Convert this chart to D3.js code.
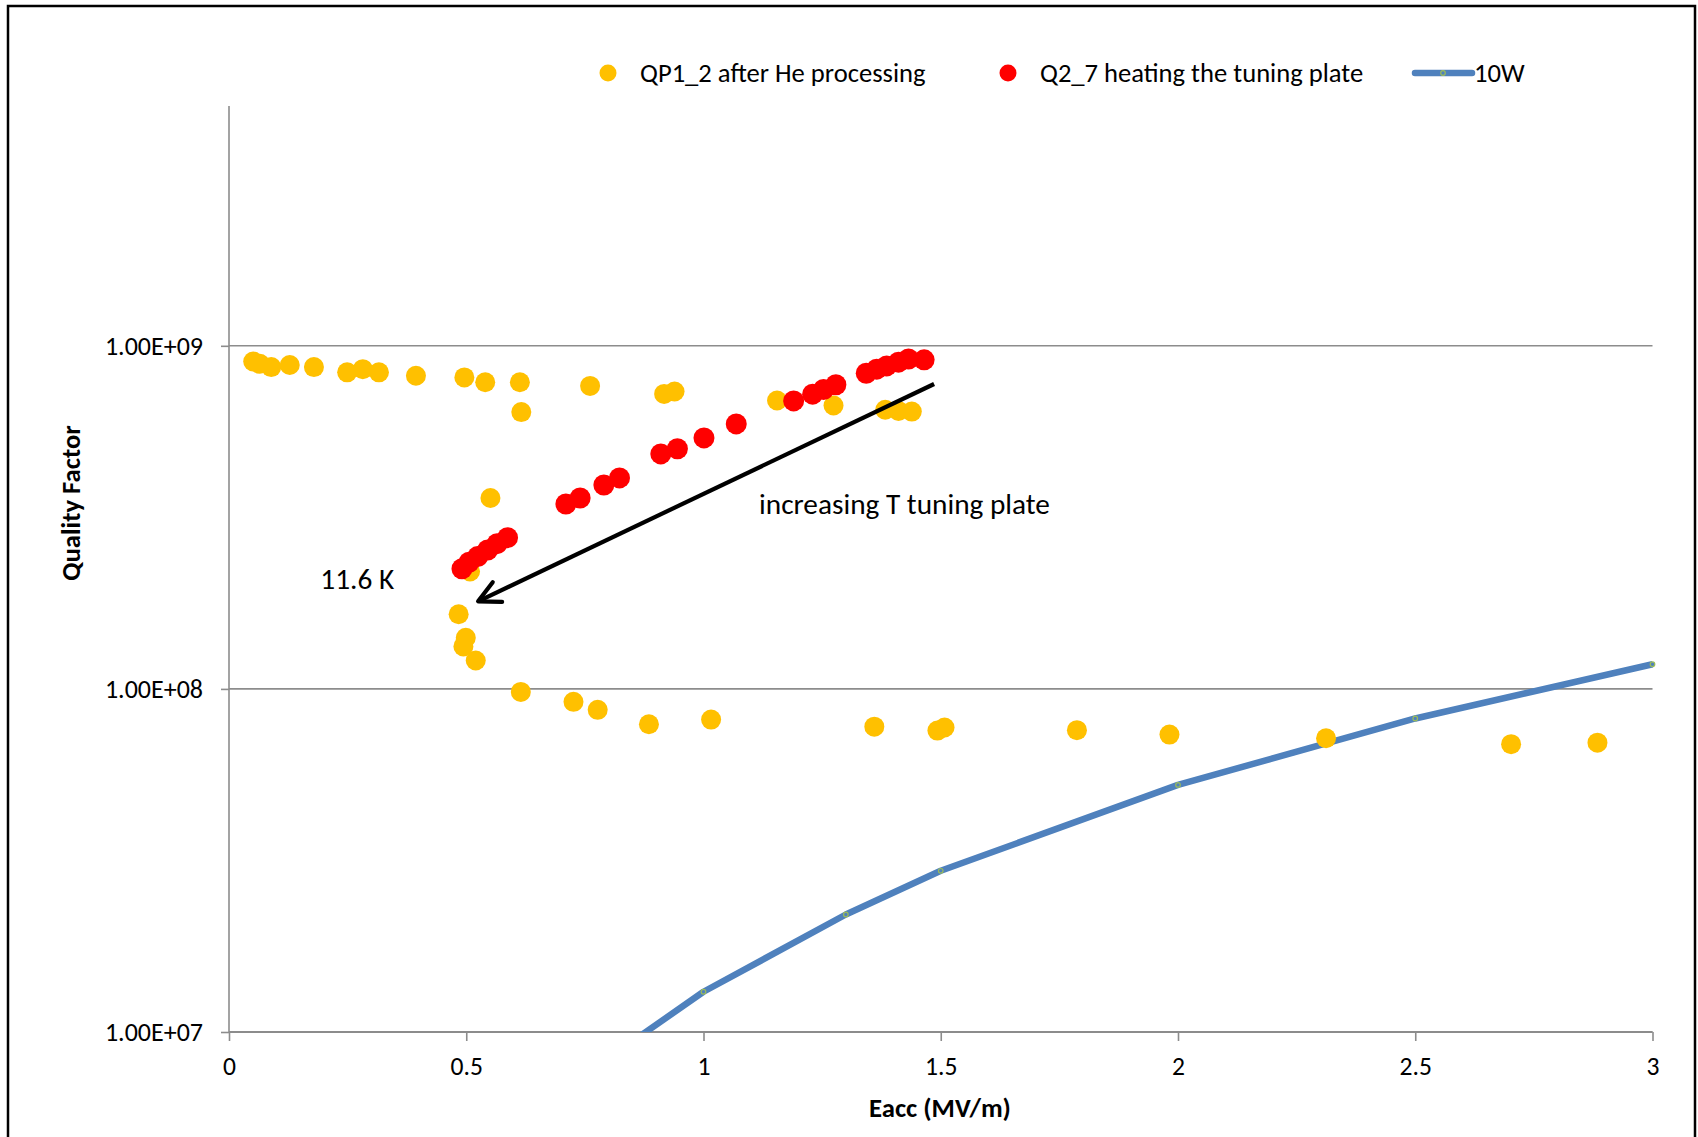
<!DOCTYPE html>
<html>
<head>
<meta charset="utf-8">
<script src="https://cdn.jsdelivr.net/npm/d3@7"></script>
<style>
  html, body { margin: 0; padding: 0; background: #fff; }
  svg { display: block; }
  text { font-family: Carlito, Calibri, Lato, "Open Sans", sans-serif; fill: #000; }
</style>
</head>
<body>
<svg id="chart" width="1698" height="1137"></svg>
<script>
// QP1_2 after He processing
const eaccQP1 = [0.051, 0.065, 0.089, 0.128, 0.179, 0.249, 0.282, 0.316, 0.394, 0.496, 0.540, 0.613, 0.616,
                 0.761, 0.917, 0.939, 1.155, 1.274, 1.383, 1.411, 1.439,
                 0.551, 0.508, 0.484, 0.499, 0.494, 0.520,
                 0.615, 0.726, 0.777, 0.885, 1.016, 1.360, 1.493, 1.508,
                 1.787, 1.982, 2.312, 2.702, 2.884];
const qQP1 = [9.0e8, 8.86e8, 8.67e8, 8.79e8, 8.67e8, 8.37e8, 8.55e8, 8.37e8, 8.18e8, 8.09e8, 7.83e8, 7.83e8, 6.41e8,
              7.64e8, 7.24e8, 7.36e8, 6.93e8, 6.70e8, 6.51e8, 6.46e8, 6.43e8,
              3.60e8, 2.20e8, 1.65e8, 1.41e8, 1.33e8, 1.21e8,
              9.80e7, 9.17e7, 8.69e7, 7.89e7, 8.14e7, 7.76e7, 7.56e7, 7.72e7,
              7.58e7, 7.36e7, 7.18e7, 6.90e7, 6.97e7];

// Q2_7 heating the tuning plate
const eaccQ27 = [0.491, 0.506, 0.524, 0.545, 0.565, 0.587, 0.710, 0.740, 0.790, 0.823,
                 0.910, 0.945, 1.001, 1.069, 1.190, 1.230, 1.253, 1.279,
                 1.343, 1.365, 1.386, 1.411, 1.432, 1.465];
const qQ27 = [2.24e8, 2.34e8, 2.43e8, 2.54e8, 2.65e8, 2.76e8, 3.46e8, 3.60e8, 3.93e8, 4.12e8,
              4.84e8, 5.01e8, 5.39e8, 5.92e8, 6.91e8, 7.23e8, 7.46e8, 7.70e8,
              8.32e8, 8.55e8, 8.74e8, 8.96e8, 9.15e8, 9.10e8];

// 10W dissipated power line
const eacc10W = [0.8, 1.0, 1.3, 1.5, 2.0, 2.5, 3.0];
const q10W = [8.4e6, 1.31e7, 2.2e7, 2.95e7, 5.25e7, 8.2e7, 1.18e8];

const seriesNames = ["QP1_2 after He processing", "Q2_7 heating the tuning plate", "10W"];
const xTicks = [0, 0.5, 1, 1.5, 2, 2.5, 3];
const xTickLabels = ["0", "0.5", "1", "1.5", "2", "2.5", "3"];
const yTicks = [1e7, 1e8, 1e9];
const yTickLabels = ["1.00E+07", "1.00E+08", "1.00E+09"];

// annotation arrow: from high-field end toward low-field end
const arrowFrom = [1.486, 7.74e8];
const arrowTo = [0.525, 1.80e8];

const svg = d3.select("#chart");
const plot = { left: 229, right: 1652.5, top: 106, bottom: 1032 };

const x = d3.scaleLinear().domain([0, 3]).range([plot.left, plot.right]);
const y = d3.scaleLog().domain([1e7, 5e9]).range([plot.bottom, plot.top]);

// chart border
svg.append("rect")
  .attr("x", 8).attr("y", 6).attr("width", 1687).attr("height", 1145)
  .attr("fill", "none").attr("stroke", "#000").attr("stroke-width", 2.5);

svg.append("defs").append("clipPath").attr("id", "plotClip")
  .append("rect")
  .attr("x", plot.left).attr("y", plot.top)
  .attr("width", plot.right - plot.left + 8).attr("height", plot.bottom - plot.top);

const gridColor = "#8c8c8c";
const fontStack = "Carlito, Calibri, Lato, sans-serif";

// horizontal gridlines
svg.append("g").selectAll("line").data(yTicks).join("line")
  .attr("x1", plot.left).attr("x2", plot.right)
  .attr("y1", d => y(d)).attr("y2", d => y(d))
  .attr("stroke", gridColor).attr("stroke-width", 1.6);

// y axis
const yAxis = d3.axisLeft(y).tickValues(yTicks)
  .tickFormat((d, i) => yTickLabels[i]).tickSize(8).tickPadding(18);
const gy = svg.append("g").attr("transform", `translate(${plot.left},0)`).call(yAxis);
gy.select(".domain").attr("stroke", gridColor).attr("stroke-width", 1.6)
  .attr("d", `M0,${plot.top}V${plot.bottom}`);
gy.selectAll(".tick line").attr("stroke", gridColor).attr("stroke-width", 1.6);
gy.selectAll(".tick text").attr("font-size", 26).attr("fill", "#000")
  .style("font-family", fontStack);

// x axis
const xAxis = d3.axisBottom(x).tickValues(xTicks)
  .tickFormat((d, i) => xTickLabels[i]).tickSize(9).tickPadding(16);
const gx = svg.append("g").attr("transform", `translate(0,${plot.bottom})`).call(xAxis);
gx.select(".domain").attr("stroke", gridColor).attr("stroke-width", 2.2)
  .attr("d", `M${plot.left},0H${plot.right}`);
gx.selectAll(".tick line").attr("stroke", gridColor).attr("stroke-width", 1.6);
gx.selectAll(".tick text").attr("font-size", 25.6).attr("fill", "#000")
  .style("font-family", fontStack);

// axis titles
svg.append("text")
  .attr("x", 940).attr("y", 1117)
  .attr("text-anchor", "middle").attr("font-size", 26.7).attr("font-weight", "bold")
  .text("Eacc (MV/m)");
svg.append("text")
  .attr("transform", "translate(80,503) rotate(-90)")
  .attr("text-anchor", "middle").attr("font-size", 26.7).attr("font-weight", "bold")
  .text("Quality Factor");

const marks = svg.append("g").attr("clip-path", "url(#plotClip)");

// 10W line
const line10W = d3.line().x((d, i) => x(eacc10W[i])).y((d, i) => y(q10W[i]));
marks.append("path")
  .datum(q10W)
  .attr("d", line10W)
  .attr("fill", "none").attr("stroke", "#4F81BD").attr("stroke-width", 6.5)
  .attr("stroke-linejoin", "round");
marks.append("g").selectAll("circle").data(q10W).join("circle")
  .attr("cx", (d, i) => x(eacc10W[i])).attr("cy", d => y(d)).attr("r", 2.3)
  .attr("fill", "#4F81BD").attr("stroke", "#9BBB59").attr("stroke-width", 1.2);

// QP1_2 points
marks.append("g").selectAll("circle").data(qQP1).join("circle")
  .attr("cx", (d, i) => x(eaccQP1[i])).attr("cy", d => y(d)).attr("r", 10)
  .attr("fill", "#FFC000");

// Q2_7 points
marks.append("g").selectAll("circle").data(qQ27).join("circle")
  .attr("cx", (d, i) => x(eaccQ27[i])).attr("cy", d => y(d)).attr("r", 10.5)
  .attr("fill", "#FF0000");

// arrow annotation
const ax0 = x(arrowFrom[0]), ay0 = y(arrowFrom[1]);
const ax1 = x(arrowTo[0]), ay1 = y(arrowTo[1]);
const ang = Math.atan2(ay0 - ay1, ax0 - ax1);
const barb = 24, spread = 27 * Math.PI / 180;
const arrow = svg.append("g").attr("stroke", "#000").attr("stroke-width", 4.2)
  .attr("fill", "none").attr("stroke-linecap", "round").attr("stroke-linejoin", "round");
arrow.append("line").attr("x1", ax0).attr("y1", ay0).attr("x2", ax1).attr("y2", ay1)
  .attr("stroke-linecap", "butt");
arrow.append("path").attr("d",
  `M${ax1 + barb * Math.cos(ang - spread)},${ay1 + barb * Math.sin(ang - spread)}` +
  `L${ax1},${ay1}` +
  `L${ax1 + barb * Math.cos(ang + spread)},${ay1 + barb * Math.sin(ang + spread)}`);

// text annotations
svg.append("text")
  .attr("x", x(1.117)).attr("y", y(3.47e8)).attr("dy", "0.35em")
  .attr("font-size", 29.3)
  .text("increasing T tuning plate");
svg.append("text")
  .attr("x", x(0.348)).attr("y", y(2.09e8)).attr("dy", "0.35em")
  .attr("text-anchor", "end").attr("font-size", 29.3)
  .text("11.6 K");

// legend
const legend = svg.append("g").attr("font-size", 26.6);
const legY = 73;
legend.append("circle").attr("cx", 608).attr("cy", legY).attr("r", 8.5).attr("fill", "#FFC000");
legend.append("text").attr("x", 640).attr("y", legY).attr("dy", "0.35em").text(seriesNames[0]);
legend.append("circle").attr("cx", 1008).attr("cy", legY).attr("r", 8.5).attr("fill", "#FF0000");
legend.append("text").attr("x", 1040).attr("y", legY).attr("dy", "0.35em").text(seriesNames[1]);
legend.append("line").attr("x1", 1415).attr("x2", 1472).attr("y1", legY).attr("y2", legY)
  .attr("stroke", "#4F81BD").attr("stroke-width", 6.5).attr("stroke-linecap", "round");
legend.append("circle").attr("cx", 1443).attr("cy", legY).attr("r", 2.3)
  .attr("fill", "#4F81BD").attr("stroke", "#9BBB59").attr("stroke-width", 1.2);
legend.append("text").attr("x", 1474).attr("y", legY).attr("dy", "0.35em").text(seriesNames[2]);
</script>
</body>
</html>
